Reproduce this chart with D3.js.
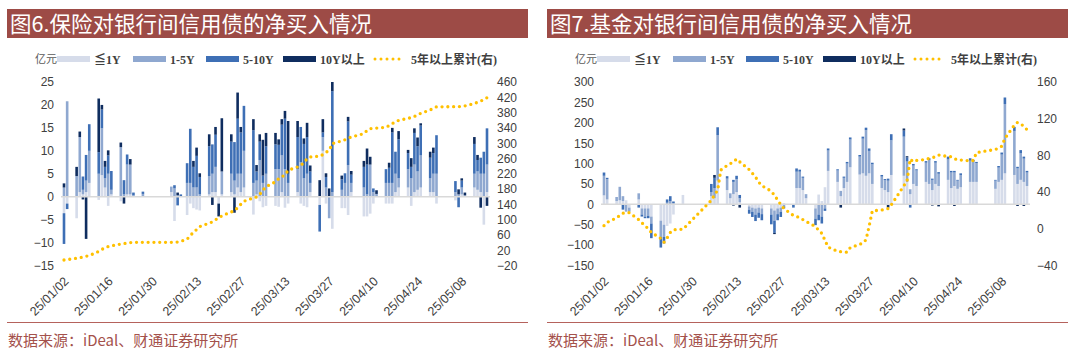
<!DOCTYPE html>
<html><head><meta charset="utf-8">
<script src="https://cdn.jsdelivr.net/npm/d3@7"></script>
<style>html,body{margin:0;padding:0;background:#fff}svg{display:block}</style>
</head><body>
<svg id="chart" width="1080" height="355"></svg>
<script>
// ---------------- data ----------------
const tradeDays = ["25/01/02","25/01/03","25/01/06","25/01/07","25/01/08","25/01/09","25/01/10","25/01/13","25/01/14","25/01/15","25/01/16","25/01/17","25/01/20","25/01/21","25/01/22","25/01/23","25/01/24","25/01/27",
"25/02/05","25/02/06","25/02/07","25/02/08","25/02/10","25/02/11","25/02/12","25/02/13","25/02/14","25/02/17","25/02/18","25/02/19","25/02/20","25/02/21","25/02/24","25/02/25","25/02/26","25/02/27","25/02/28",
"25/03/03","25/03/04","25/03/05","25/03/06","25/03/07","25/03/10","25/03/11","25/03/12","25/03/13","25/03/14","25/03/17","25/03/18","25/03/19","25/03/20","25/03/21","25/03/24","25/03/25","25/03/26","25/03/27","25/03/28","25/03/31",
"25/04/01","25/04/02","25/04/03","25/04/07","25/04/08","25/04/09","25/04/10","25/04/11","25/04/14","25/04/15","25/04/16","25/04/17","25/04/18","25/04/21","25/04/22","25/04/23","25/04/24","25/04/25","25/04/28","25/04/29","25/04/30",
"25/05/06","25/05/07","25/05/08","25/05/09","25/05/12","25/05/13","25/05/14","25/05/15","25/05/16"];
const xTickLabels = ["25/01/02","25/01/16","25/01/30","25/02/13","25/02/27","25/03/13","25/03/27","25/04/10","25/04/24","25/05/08"];
const seriesNames = ["≦1Y","1-5Y","5-10Y","10Y以上"];
const lineName = "5年以上累计(右)";

// 图6 保险
const insLe1 = [-3.6,-1.5,-4.7,1,0.5,1,3,-0.7,4.7,2,-2,0.5,-1,0,0.5,0.5,0,0,
1,-5.3,0,0,-4,-1.5,-2.5,-2.8,-3,0.5,1,1,-1.5,0.5,1,0.5,2,1,2,
-3.9,0.5,-1,-2.3,-2,-2,-2.2,1,-2.4,-1.5,1,-1.5,-2,-2.3,1,-1.8,10,-1.5,0,-7,-2.5,
-2.5,-4,1,-4.3,-4.3,-3.7,-1.5,0,-1.5,-1.5,-1.5,1,2,2,-2,1,1.5,2,1,1,-1.5,
-0.8,0,0.5,0,2,1.5,1,-6.1,1];
const ins1to5 = [2,20.8,4.5,12,1,2.5,7,5,10.2,2,5,1,10.8,0.5,6.5,6.5,0.3,0.6,
1.2,1.8,0.3,0,3,3,2,2,0.5,4,4,5.5,0,5,4,3,3,4,8,
3,3,8,3,5,6,6,8,6,3,5,7.5,4,5,2,0,3,2,-4.7,1,1.5,
3,6.9,2,2,0.5,7,1,0.6,3,3,3,4,2,4,4,6,4,7,3,4,5,
1,0.5,1.5,0.3,3,4,4,5,6];
const ins5to10 = [-6.7,-1.2,0,0,2.9,5.6,5.8,4.7,4.1,2.5,4,4.1,0,3.1,2.2,0,0.6,0.5,
0,0.7,-1.9,0.5,4.3,11.8,4.5,6.9,3.8,6.5,6.4,7,0,0,7,8.4,12,9,9.8,
11.5,2,4,1.6,6,5.4,5.3,6.7,11,2,7,7.7,7.5,8,2.5,-5.8,1,2.3,0,22,2.3,
2.1,9.5,1.8,4.5,6.5,0,0.8,0,3,3.3,11,4.8,8.5,3.5,2.5,6.9,5.5,6.5,4.5,4.5,8.4,
2.4,-2.3,1.5,0,6.5,2.5,3.5,4.8,7.9];
const ins10plus = [0.9,0,2,1.2,-0.6,-9.2,0,11.7,1,1.3,1.1,0,1,-1.5,0,1.2,0,0,
0,0,0.6,0,0,0,1.3,1.8,0.8,2.6,-1.8,1.7,-2.8,11.6,1.6,-3.5,5.7,1.2,0,
2.4,1.4,1.6,7.8,2.9,2.5,1.2,1.2,1.7,11.5,3.5,0,1.2,3.1,1.3,3.6,2.9,0.8,1.8,2,0.8,
0,1,0.8,1.3,3.5,1.7,0,0.8,0,1.1,1,0,1.8,0.7,1.9,1,1.9,0.5,1.3,1.2,0,
0,1.1,0.5,0.6,1.5,1.1,-2.4,0,-2];
const insCum = [-5.6,-4.7,-1,0.5,2.1,4.2,6,16.8,22,26.5,29.5,31.5,36.3,37.3,38.5,40,40.6,40.6,
40.6,40.6,41.5,43,49,58,67,74,82,91,94,100,104,110,120,124,131,140,148,
157,159,166,177,186,199,207,212,217,229,238,242,249,259,264,266,270,276,281,299,306,
309,313,316,325,333,338,339,339.5,341.5,346,351,356,359.5,365,367,370,374,378,387,391,395,
395.4,395.4,396.5,397.5,403.5,407,410,414,419];

// 图7 基金
const fundLe1 = [22,12,8,10,8,10,-8,12,-10,-10,-10,-30,-40,-50,-53,-47,-25,23,
20,15,58,0,35,15,25,30,5,-5,-8,-10,-8,-10,-10,-15,-10,-8,3,
0,40,40,35,15,-10,24,8,42,82,55,20,40,55,91,73,76,70,76,50,40,
35,30,72,70,55,25,50,45,55,50,35,50,45,60,40,45,38,42,55,55,55,
38,55,60,76,72,50,60,55,45];
const fund1to5 = [48,50,10,33,12,-18,-10,15,-15,-20,-18,-17,-40,-30,4,8,3,0,
10,25,112,0,28,12,30,32,10,-8,-10,-15,-12,-14,-15,-25,-14,-10,-5,
0,40,40,30,10,-25,-25,-30,-10,50,28,13,25,45,68,44,85,112,55,48,28,
24,28,85,96,50,12,45,38,47,58,25,52,30,50,38,33,20,30,52,50,46,
20,35,62,170,108,38,65,57,33];
const fund5to10 = [8,3,0,0,-13,0,0,-8,-5,-4,-6,-36,-26,-16,8,12,4,0,
20,25,19,0,6,0,5,8,8,-10,-13,-16,-13,-15,-24,-30,-15,-13,-5,
-8,8,5,3,0,-16,-14,-17,-6,5,3,0,3,4,5,4,5,6,6,4,4,
3,5,15,15,10,-8,4,3,4,5,3,4,4,7,4,4,2,4,6,4,3,
2,4,5,16,10,4,8,5,4];
const fund10plus = [0,0,0,0,0,0,0,0,0,0,0,0,0,0,0,0,0,0,
0,7,0,0,0,0,-3,0,-8,0,0,0,0,0,0,-3,0,0,0,
0,0,0,0,0,0,0,0,0,0,0,-8,0,0,0,0,0,0,0,0,0,
0,-8,0,5,3,0,0,0,0,0,-3,0,-5,0,0,-4,0,0,0,0,0,
0,0,0,0,0,-4,0,-4,0];
const fundCum = [3.4,7,12,14.5,17,17.6,17.6,10,6.5,3.5,0,-4,-10.5,-14.7,-10,-4,-1,-0.5,
31,37,42,64,69,71,73,76,73,64.5,60.5,56.5,51,47,41,36.5,31.5,26.5,22,
14.5,13.5,12,10,8,2.4,-1.5,-5,-12.5,-20,-24.5,-25,-25.3,-25.5,-20.5,-17,-15.5,-12,3,19.5,20.5,
21,22,26,47,52,76,73,74.5,75.5,76.8,77.5,78.5,80.4,78.8,78.5,76.5,75,75,74,74.5,83,
86.5,88,90,98.5,113,116,114,112,108];

const insLeftTicks = [-15,-10,-5,0,5,10,15,20,25];
const insRightTicks = [-20,20,60,100,140,180,220,260,300,340,380,420,460];
const fundLeftTicks = [-150,-100,-50,0,50,100,150,200,250,300];
const fundRightTicks = [-40,0,40,80,120,160];

// ---------------- style ----------------
const colors = ["#D6DCEA","#8FA8D0","#3E6FB5","#0F2D5F"];
const lineColor = "#FFC000";
const titleBg = "#9D4B46";
const srcColor = "#A4514B";
const axisFont = "'Liberation Sans', Arial, sans-serif";
const cjkFont = "'Noto Sans CJK SC', sans-serif";
const legFont = "'Liberation Serif', 'Noto Sans CJK SC', serif";

const parse = d3.timeParse("%y/%m/%d");
const fmt = d3.timeFormat("%y/%m/%d");
const svg = d3.select("#chart");

function drawPanel(o) {
  const g = svg.append("g").attr("transform", `translate(${o.ox},0)`);
  // title bar
  g.append("rect").attr("x", 7).attr("y", 9).attr("width", 521).attr("height", 29).attr("fill", titleBg);
  g.append("text").attr("x", 10).attr("y", 32).attr("fill", "#fff")
    .attr("font-family", cjkFont).attr("font-size", 21.5).text(o.title);

  // legend
  const lg = g.append("g").attr("font-family", legFont).attr("font-size", 12).attr("font-weight", "bold").attr("fill", "#404040");
  lg.append("text").attr("x", 35).attr("y", 63).attr("font-size", 11).attr("font-weight", "normal").attr("fill", "#595959").text("亿元");
  const sw = [57, 133, 206, 283];
  seriesNames.forEach((n, i) => {
    lg.append("rect").attr("x", sw[i]).attr("y", 56).attr("width", 33).attr("height", 6).attr("fill", colors[i]);
    lg.append("text").attr("x", sw[i] + 37).attr("y", 64).text(n);
  });
  lg.append("line").attr("x1", 375).attr("x2", 405).attr("y1", 59).attr("y2", 59)
    .attr("stroke", lineColor).attr("stroke-width", 3).attr("stroke-linecap", "round").attr("stroke-dasharray", "0 6");
  lg.append("text").attr("x", 411).attr("y", 64).text(lineName);

  // scales
  const dates = tradeDays.map(parse);
  const x = d3.scaleTime().domain([dates[0], dates[dates.length - 1]]).range([64, 487]);
  const yL = d3.scaleLinear().domain([o.lt[0], o.lt[o.lt.length - 1]]).range([265.5, 82]);
  const yR = d3.scaleLinear().domain([o.rt[0], o.rt[o.rt.length - 1]]).range([265.5, 82]);

  // axes
  const ax = g.append("g").attr("transform", "translate(54,0)")
    .call(d3.axisLeft(yL).tickValues(o.lt).tickSize(0).tickPadding(0).tickFormat(d3.format("d")));
  const ay = g.append("g").attr("transform", "translate(497,0)")
    .call(d3.axisRight(yR).tickValues(o.rt).tickSize(0).tickPadding(0).tickFormat(d3.format("d")));
  [ax, ay].forEach(a => {
    a.select(".domain").remove();
    a.selectAll("text").attr("font-family", axisFont).attr("font-size", 12).attr("fill", "#404040");
  });
  const axb = g.append("g").attr("transform", "translate(0,270)")
    .call(d3.axisBottom(x).tickValues(xTickLabels.map(parse)).tickSize(0).tickFormat(fmt));
  axb.select(".domain").remove();
  axb.selectAll("text").attr("font-family", axisFont).attr("font-size", 12.5).attr("fill", "#404040")
    .attr("text-anchor", "end").attr("y", 0).attr("dy", 0).attr("x", 0)
    .attr("transform", "translate(5,12) rotate(-45)");

  // bars
  const rows = dates.map((d, i) => ({date: d, s0: o.s[0][i], s1: o.s[1][i], s2: o.s[2][i], s3: o.s[3][i]}));
  const stack = d3.stack().keys(["s0","s1","s2","s3"]).offset(d3.stackOffsetDiverging)(rows);
  const bw = 2.6;
  const bars = g.append("g");
  stack.forEach((layer, k) => {
    bars.append("g").attr("fill", colors[k]).selectAll("rect").data(layer).join("rect")
      .attr("x", d => x(d.data.date) - bw / 2).attr("width", bw)
      .attr("y", d => yL(Math.max(d[0], d[1])))
      .attr("height", d => Math.abs(yL(d[0]) - yL(d[1])));
  });
  // zero line
  g.append("line").attr("x1", 61).attr("x2", 490).attr("y1", yL(0)).attr("y2", yL(0))
    .attr("stroke", "#D9D9D9").attr("stroke-width", 1.5);

  // cumulative line
  const line = d3.line().x((d, i) => x(dates[i])).y(d => yR(d));
  g.append("path").datum(o.cum).attr("d", line).attr("fill", "none")
    .attr("stroke", lineColor).attr("stroke-width", 3.3).attr("stroke-linecap", "round")
    .attr("stroke-dasharray", "0 5.8");

  // footer
  g.append("line").attr("x1", 7).attr("x2", 528).attr("y1", 322.5).attr("y2", 322.5).attr("stroke", "#B5625C").attr("stroke-width", 1);
  g.append("text").attr("x", 8).attr("y", 346).attr("fill", srcColor).attr("font-family", cjkFont)
    .attr("font-size", 15).text("数据来源：iDeal、财通证券研究所");
}

drawPanel({ox: 0, title: "图6.保险对银行间信用债的净买入情况", lt: insLeftTicks, rt: insRightTicks,
  s: [insLe1, ins1to5, ins5to10, ins10plus], cum: insCum});
drawPanel({ox: 540, title: "图7.基金对银行间信用债的净买入情况", lt: fundLeftTicks, rt: fundRightTicks,
  s: [fundLe1, fund1to5, fund5to10, fund10plus], cum: fundCum});
</script>
</body></html>
